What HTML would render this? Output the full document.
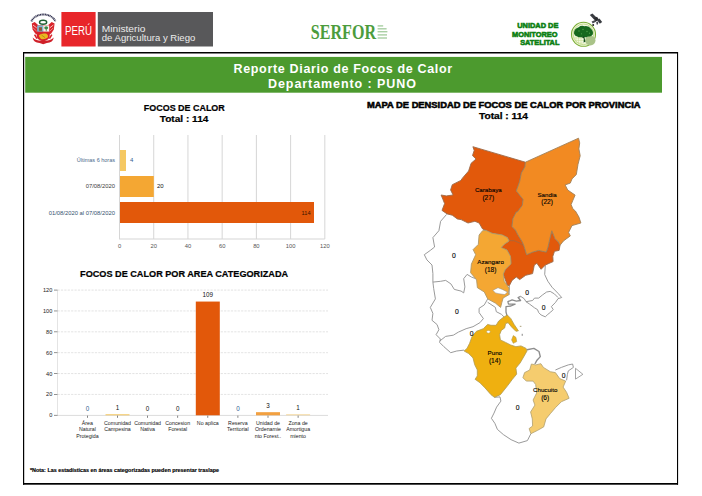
<!DOCTYPE html>
<html><head><meta charset="utf-8">
<style>
html,body{margin:0;padding:0;background:#fff;}
body{width:702px;height:496px;overflow:hidden;font-family:"Liberation Sans",sans-serif;}
svg{display:block;}
text{font-family:"Liberation Sans",sans-serif;}
.serif{font-family:"Liberation Serif",serif;}
</style></head><body>
<svg width="702" height="496" viewBox="0 0 702 496">
<rect width="702" height="496" fill="#fff"/>
<!-- FRAME -->
<g id="frame">
<rect x="23" y="52" width="655" height="1.5" fill="#000"/>
<rect x="23" y="483" width="655" height="1.7" fill="#000"/>
<rect x="23" y="52" width="1.2" height="432.7" fill="#000"/>
<rect x="677" y="52" width="1.1" height="432.7" fill="#000"/>
<rect x="25.2" y="56.9" width="636.8" height="35.8" fill="#4c9a2e"/>
</g>
<!-- HEADER -->
<g id="header">
<rect x="61.4" y="12" width="34.2" height="34.5" fill="#e8262a"/>
<rect x="97.8" y="12" width="115.2" height="34.5" fill="#58585a"/>
<text x="65" y="34.5" font-size="12.5" fill="#fff" textLength="27" lengthAdjust="spacingAndGlyphs">PERÚ</text>
<text x="101.8" y="31.8" font-size="9" fill="#ececec" textLength="43.5" lengthAdjust="spacingAndGlyphs">Ministerio</text>
<text x="101.8" y="40.7" font-size="9" fill="#ececec" textLength="93.5" lengthAdjust="spacingAndGlyphs">de Agricultura y Riego</text>
<!-- coat of arms -->
<g id="escudo">
<path d="M31.4,21.4 A12.6,10 0 0 1 55.4,21.4" fill="none" stroke="#30304e" stroke-width="1.9" stroke-dasharray="1.1,0.5"/>
<ellipse cx="43.1" cy="22.2" rx="3.6" ry="2" fill="none" stroke="#1d5e2e" stroke-width="1.4"/>
<path d="M31.8,23.4 L34.7,22 L38.4,25.2 L38.4,35 L35.2,33.4 L32.6,29.4 Z" fill="#d8232a"/>
<path d="M33,25 L37.6,28.6" stroke="#fbe9e6" stroke-width="0.8"/>
<path d="M33.2,28 L37.4,31.8" stroke="#f4c9c6" stroke-width="0.6"/>
<path d="M54.6,23.4 L51.7,22 L48,25.2 L48,35 L51.2,33.4 L53.8,29.4 Z" fill="#d8232a"/>
<path d="M53.4,25 L48.8,28.6" stroke="#fbe9e6" stroke-width="0.8"/>
<path d="M53.2,28 L49,31.8" stroke="#f4c9c6" stroke-width="0.6"/>
<path d="M36.7,25.2 H49.7 V35.5 Q49.7,40.2 43.2,41.4 Q36.7,40.2 36.7,35.5 Z" fill="#d8232a"/>
<rect x="37.2" y="25.4" width="6" height="6.2" fill="#7db9d6"/>
<rect x="43.2" y="25.4" width="6" height="6.2" fill="#f4f4ee"/>
<rect x="38.8" y="27.2" width="3.2" height="3.6" fill="#8a5a3a"/>
<ellipse cx="46.2" cy="27.8" rx="1.9" ry="1.6" fill="#3a8a4a"/>
<rect x="45.8" y="28.8" width="0.8" height="2.4" fill="#5a7a3a"/>
<path d="M38.8,35.2 Q41.5,33 45.5,33.6 Q48.8,34.6 47.8,37.4 Q45,39.8 41,39 Q39.4,37.8 38.8,35.2 Z" fill="#e8b820"/>
<path d="M41.5,35 L45,37.6" stroke="#a86a10" stroke-width="0.6"/>
<path d="M32.6,37.4 Q36.5,41.2 43.2,40.6 Q49.8,41.2 53.8,37.4 Q53,42.4 46.8,43 L43.2,44.2 L39.6,43 Q33.4,42.4 32.6,37.4 Z" fill="#cf2029"/>
<path d="M34.6,34.6 L37,38.6 M51.8,34.6 L49.4,38.6" stroke="#d8232a" stroke-width="1.6"/>
</g>
<!-- SERFOR -->
<text class="serif" x="310.8" y="38.7" font-size="20.8" font-weight="bold" fill="#4c9c3c" textLength="65.2" lengthAdjust="spacingAndGlyphs" style="font-family:'Liberation Serif',serif">SERFOR</text>
<g fill="#a9cfa3">
<rect x="377.6" y="25.2" width="5.6" height="1.4"/>
<rect x="377.6" y="28.1" width="9" height="1.4"/>
<rect x="377.6" y="31" width="9.8" height="1.4"/>
<rect x="377.6" y="34.2" width="9.4" height="1.4"/>
<rect x="377.6" y="37.3" width="9.4" height="1.4"/>
</g>
<!-- UMS -->
<g font-weight="bold" font-size="7.7" fill="#0b8011" stroke="#0b8011" stroke-width="0.6">
<text x="517.2" y="27.8" textLength="41.2" lengthAdjust="spacingAndGlyphs">UNIDAD DE</text>
<text x="512" y="36.8" textLength="45.6" lengthAdjust="spacingAndGlyphs">MONITOREO</text>
<text x="520.2" y="44.9" textLength="39.2" lengthAdjust="spacingAndGlyphs">SATELITAL</text>
</g>
<g id="globe">
<circle cx="583.5" cy="34.3" r="12" fill="#f3f8e2" stroke="#7cae36" stroke-width="1.1"/>
<circle cx="583.5" cy="34.3" r="10.3" fill="none" stroke="#b7d67a" stroke-width="0.8"/>
<g stroke="#c5dc8c" stroke-width="0.5" fill="none">
<path d="M573.5,38 H584 M574.5,40.5 H584 M576,43 H584 M576,36.5 V43 M578.5,36.5 V44.5 M581,36.5 V45.5"/>
</g>
<ellipse cx="590.3" cy="40.6" rx="5.2" ry="4.8" fill="#a9c388"/>
<path d="M574,33.6 Q573.8,28.6 578.6,27.2 Q581,25.2 584.6,26.2 Q589,25.6 591,28.8 Q593.6,31 592.8,34.6 Q591.2,37 588,36.4 Q585.5,38 583,36.8 Q579.5,38 577.2,36.4 Q574.4,36 574,33.6 Z" fill="#16691e"/>
<path d="M584.2,36 L585.4,41.8 L583.6,42.6 L583.8,38.6 L581.5,37 Z" fill="#134d18"/>
<g fill="#4fa04a"><circle cx="579" cy="31" r="0.7"/><circle cx="583" cy="29.5" r="0.7"/><circle cx="587" cy="31.5" r="0.7"/><circle cx="581.5" cy="33.8" r="0.6"/><circle cx="589.5" cy="33.2" r="0.6"/></g>
</g>
<g id="sat" fill="#3a3d42">
<path d="M589.8,15 L592.4,13.4 L596.6,17.4 L594,19.4 Z"/>
<path d="M593.6,18.2 L597,16.8 L599,19.8 L595.4,21.8 Z" fill="#2a2c30"/>
<path d="M597,20 L599.4,18.4 L602.2,22 L599.8,23.8 Z"/>
<path d="M591.6,21.6 L595.2,20 L596,21.8 L592.6,23.6 Z" fill="#4a4d52"/>
<path d="M596.2,22 L598.2,21.4 L598,24.6 L596.6,24.6 Z" fill="#4a4d52"/>
<circle cx="593.2" cy="25" r="1" fill="#222"/>
</g>
</g>
<!-- TITLE BAR TEXT -->
<g id="titlebar" font-weight="bold" fill="#fff" font-size="12.5">
<text x="233.5" y="72.6" textLength="218.7" lengthAdjust="spacing">Reporte Diario de Focos de Calor</text>
<text x="268" y="87.6" textLength="148" lengthAdjust="spacing">Departamento : PUNO</text>
</g>
<!-- CHART1 -->
<g id="chart1">
<rect x="119.00" y="135" width="1" height="104" fill="#d6d6d6"/>
<rect x="153.22" y="135" width="1" height="104" fill="#d6d6d6"/>
<rect x="187.44" y="135" width="1" height="104" fill="#d6d6d6"/>
<rect x="221.66" y="135" width="1" height="104" fill="#d6d6d6"/>
<rect x="255.88" y="135" width="1" height="104" fill="#d6d6d6"/>
<rect x="290.10" y="135" width="1" height="104" fill="#d6d6d6"/>
<rect x="324.32" y="135" width="1" height="104" fill="#d6d6d6"/>
<rect x="119" y="238.5" width="205.82" height="1" fill="#d6d6d6"/>
<text x="119.50" y="248.2" font-size="5.8" fill="#555" text-anchor="middle">0</text>
<text x="153.72" y="248.2" font-size="5.8" fill="#555" text-anchor="middle">20</text>
<text x="187.94" y="248.2" font-size="5.8" fill="#555" text-anchor="middle">40</text>
<text x="222.16" y="248.2" font-size="5.8" fill="#555" text-anchor="middle">60</text>
<text x="256.38" y="248.2" font-size="5.8" fill="#555" text-anchor="middle">80</text>
<text x="290.60" y="248.2" font-size="5.8" fill="#555" text-anchor="middle">100</text>
<text x="324.82" y="248.2" font-size="5.8" fill="#555" text-anchor="middle">120</text>
<rect x="120" y="150" width="6" height="21" fill="#f5c862"/>
<rect x="120" y="176" width="33.8" height="21" fill="#f4a733"/>
<rect x="120" y="202" width="194" height="21" fill="#e2580a"/>
<text x="115" y="162" font-size="5.5" fill="#4a6a8a" text-anchor="end">Últimas 6 horas</text>
<text x="115" y="188.3" font-size="5.85" fill="#3a3a3a" text-anchor="end">07/08/2020</text>
<text x="115" y="214.6" font-size="5.85" fill="#33506e" text-anchor="end">01/08/2020 al 07/08/2020</text>
<text x="130" y="162.4" font-size="6" fill="#2f5f8f">4</text>
<text x="157" y="188.4" font-size="6" fill="#111">20</text>
<text x="310.5" y="214.6" font-size="5.6" fill="#3a1500" text-anchor="end">114</text>
<text x="143.8" y="110.8" font-size="8.8" font-weight="bold" fill="#000" stroke="#000" stroke-width="0.2" textLength="81" lengthAdjust="spacingAndGlyphs">FOCOS DE CALOR</text>
<text x="159.8" y="121.5" font-size="8.8" font-weight="bold" fill="#000" stroke="#000" stroke-width="0.2" textLength="48.6" lengthAdjust="spacingAndGlyphs">Total : 114</text>
</g>
<!-- CHART2 -->
<g id="chart2">
<line x1="57.5" y1="394.43" x2="328" y2="394.43" stroke="#dcdcdc" stroke-width="0.8" stroke-dasharray="2.2,1.2"/>
<line x1="57.5" y1="373.56" x2="328" y2="373.56" stroke="#dcdcdc" stroke-width="0.8" stroke-dasharray="2.2,1.2"/>
<line x1="57.5" y1="352.69" x2="328" y2="352.69" stroke="#dcdcdc" stroke-width="0.8" stroke-dasharray="2.2,1.2"/>
<line x1="57.5" y1="331.82" x2="328" y2="331.82" stroke="#dcdcdc" stroke-width="0.8" stroke-dasharray="2.2,1.2"/>
<line x1="57.5" y1="310.95" x2="328" y2="310.95" stroke="#dcdcdc" stroke-width="0.8" stroke-dasharray="2.2,1.2"/>
<line x1="57.5" y1="290.08" x2="328" y2="290.08" stroke="#dcdcdc" stroke-width="0.8" stroke-dasharray="2.2,1.2"/>
<rect x="57" y="290" width="1" height="126" fill="#e4e4e4"/>
<rect x="57" y="414.9" width="271" height="1" fill="#dcdcdc"/>
<rect x="54" y="414.90" width="3.5" height="0.8" fill="#777"/>
<text x="52.3" y="417.30" font-size="5.6" fill="#222" text-anchor="end">0</text>
<rect x="54" y="394.03" width="3.5" height="0.8" fill="#777"/>
<text x="52.3" y="396.43" font-size="5.6" fill="#222" text-anchor="end">20</text>
<rect x="54" y="373.16" width="3.5" height="0.8" fill="#777"/>
<text x="52.3" y="375.56" font-size="5.6" fill="#222" text-anchor="end">40</text>
<rect x="54" y="352.29" width="3.5" height="0.8" fill="#777"/>
<text x="52.3" y="354.69" font-size="5.6" fill="#222" text-anchor="end">60</text>
<rect x="54" y="331.42" width="3.5" height="0.8" fill="#777"/>
<text x="52.3" y="333.82" font-size="5.6" fill="#222" text-anchor="end">80</text>
<rect x="54" y="310.55" width="3.5" height="0.8" fill="#777"/>
<text x="52.3" y="312.95" font-size="5.6" fill="#222" text-anchor="end">100</text>
<rect x="54" y="289.68" width="3.5" height="0.8" fill="#777"/>
<text x="52.3" y="292.08" font-size="5.6" fill="#222" text-anchor="end">120</text>
<rect x="87.0" y="415.6" width="0.8" height="2.2" fill="#666"/>
<text x="87.4" y="410.70" font-size="6.3" fill="#2f5f8f" text-anchor="middle">0</text>
<text x="87.4" y="424.6" font-size="5.25" fill="#222" text-anchor="middle">Área</text>
<text x="87.4" y="431.1" font-size="5.25" fill="#222" text-anchor="middle">Natural</text>
<text x="87.4" y="437.6" font-size="5.25" fill="#222" text-anchor="middle">Protegida</text>
<rect x="105.5" y="414.26" width="24" height="1.04" fill="#f5c862"/>
<rect x="117.1" y="415.6" width="0.8" height="2.2" fill="#666"/>
<text x="117.5" y="409.66" font-size="6.3" fill="#111" text-anchor="middle">1</text>
<text x="117.5" y="424.6" font-size="5.25" fill="#222" text-anchor="middle">Comunidad</text>
<text x="117.5" y="431.1" font-size="5.25" fill="#222" text-anchor="middle">Campesina</text>
<rect x="147.2" y="415.6" width="0.8" height="2.2" fill="#666"/>
<text x="147.6" y="410.70" font-size="6.3" fill="#111" text-anchor="middle">0</text>
<text x="147.6" y="424.6" font-size="5.25" fill="#222" text-anchor="middle">Comunidad</text>
<text x="147.6" y="431.1" font-size="5.25" fill="#222" text-anchor="middle">Nativa</text>
<rect x="177.3" y="415.6" width="0.8" height="2.2" fill="#666"/>
<text x="177.7" y="410.70" font-size="6.3" fill="#111" text-anchor="middle">0</text>
<text x="177.7" y="424.6" font-size="5.25" fill="#222" text-anchor="middle">Concesion</text>
<text x="177.7" y="431.1" font-size="5.25" fill="#222" text-anchor="middle">Forestal</text>
<rect x="195.8" y="301.56" width="24" height="113.74" fill="#e2580a"/>
<rect x="207.4" y="415.6" width="0.8" height="2.2" fill="#666"/>
<text x="207.8" y="296.96" font-size="6.3" fill="#111" text-anchor="middle">109</text>
<text x="207.8" y="424.6" font-size="5.25" fill="#222" text-anchor="middle">No aplica</text>
<rect x="237.5" y="415.6" width="0.8" height="2.2" fill="#666"/>
<text x="237.9" y="410.70" font-size="6.3" fill="#2f5f8f" text-anchor="middle">0</text>
<text x="237.9" y="424.6" font-size="5.25" fill="#222" text-anchor="middle">Reserva</text>
<text x="237.9" y="431.1" font-size="5.25" fill="#222" text-anchor="middle">Territorial</text>
<rect x="256.0" y="412.17" width="24" height="3.13" fill="#f2a040"/>
<rect x="267.6" y="415.6" width="0.8" height="2.2" fill="#666"/>
<text x="268.0" y="407.57" font-size="6.3" fill="#111" text-anchor="middle">3</text>
<text x="268.0" y="424.6" font-size="5.25" fill="#222" text-anchor="middle">Unidad de</text>
<text x="268.0" y="431.1" font-size="5.25" fill="#222" text-anchor="middle">Ordenamie</text>
<text x="268.0" y="437.6" font-size="5.25" fill="#222" text-anchor="middle">nto Forest..</text>
<rect x="286.1" y="414.26" width="24" height="1.04" fill="#f6d9a0"/>
<rect x="297.7" y="415.6" width="0.8" height="2.2" fill="#666"/>
<text x="298.1" y="409.66" font-size="6.3" fill="#111" text-anchor="middle">1</text>
<text x="298.1" y="424.6" font-size="5.25" fill="#222" text-anchor="middle">Zona de</text>
<text x="298.1" y="431.1" font-size="5.25" fill="#222" text-anchor="middle">Amortigua</text>
<text x="298.1" y="437.6" font-size="5.25" fill="#222" text-anchor="middle">miento</text>
<text x="80.1" y="277.1" font-size="9.4" font-weight="bold" fill="#000" stroke="#000" stroke-width="0.2" textLength="208" lengthAdjust="spacingAndGlyphs">FOCOS DE CALOR POR AREA CATEGORIZADA</text>
<text x="30" y="472.3" font-size="5.4" font-weight="bold" fill="#000" stroke="#000" stroke-width="0.15" textLength="189" lengthAdjust="spacingAndGlyphs">*Nota: Las estadísticas en áreas categorizadas pueden presentar traslape</text>
</g>
<!-- MAP -->
<g id="map">
<polyline points="446.6,214.4 440.6,221.3 438.9,230.7 432.9,237.6 434.6,247.0 430.3,250.4 424.3,254.7 426.9,259.9 432.0,265.0 432.9,273.6 432.9,282.1 440.6,281.3 445.7,280.4 450.9,283.9 454.3,289.4 461.1,291.1 463.7,292.9 464.9,286.9 463.7,278.7 467.1,274.4 471.4,277.0 475.7,278.7" fill="none" stroke="#8e8e8e" stroke-width="0.9" stroke-linejoin="round"/>
<polyline points="432.9,282.1 433.7,288.6 435.4,298.9 430.3,307.4 432.9,313.4 432.0,320.3 437.1,324.6 438.9,329.7 436.1,334.7 440.4,339.0 439.6,342.4 443.9,346.7 450.7,352.7 456.7,351.0 464.1,350.1" fill="none" stroke="#8e8e8e" stroke-width="0.9" stroke-linejoin="round"/>
<polyline points="439.8,341.0 445.6,336.4 453.3,335.2 458.4,332.1 466.1,328.7 473.0,326.7 479.9,322.7 483.4,318.6 479.1,312.6 479.1,308.3 484.3,304.9 487.7,298.9" fill="none" stroke="#8e8e8e" stroke-width="0.9" stroke-linejoin="round"/>
<polyline points="487.7,302.3 495.4,307.4 496.3,311.7 501.4,314.3 504.0,316.9" fill="none" stroke="#8e8e8e" stroke-width="0.9" stroke-linejoin="round"/>
<polyline points="507.3,316.8 506.0,312.0 506.0,306.6 510.9,306.0 515.1,304.1 508.5,304.1 507.9,301.7 512.1,299.9 516.3,301.1 520.6,300.5 518.1,297.5 520.6,296.3" fill="none" stroke="#8c8c8c" stroke-width="1.3" stroke-linejoin="round"/>
<polyline points="520.6,296.3 524.2,298.7 526.0,301.7 529.6,304.1 534.5,307.8 537.5,309.6 538.7,312.6 541.1,315.0 545.3,316.8 547.8,314.4 550.8,312.0 553.2,309.6 551.4,306.6 555.6,302.3 558.0,298.7 561.7,297.5 558.0,293.3 552.0,287.2 547.8,281.2 544.7,274.5 545.3,265.4" fill="none" stroke="#8e8e8e" stroke-width="0.9" stroke-linejoin="round"/>
<polyline points="526.0,301.7 532.6,300.5 534.5,298.1 538.7,298.1 542.3,295.1 546.6,292.0 550.2,291.4 554.4,293.9 558.0,297.5" fill="none" stroke="#8e8e8e" stroke-width="0.9" stroke-linejoin="round"/>
<polyline points="509.1,294.6 509.4,285.6" fill="none" stroke="#8e8e8e" stroke-width="0.9" stroke-linejoin="round"/>
<polyline points="494.4,397.3 500.0,396.9 500.9,401.1 496.6,407.1 494.0,413.1 491.4,418.3 494.9,423.4 497.4,429.4 503.4,434.6 511.1,439.7 518.9,443.1 527.4,440.6 530.9,433.7" fill="none" stroke="#8e8e8e" stroke-width="0.9" stroke-linejoin="round"/>
<polyline points="527.0,349.8 533.9,348.4 539.0,351.5 540.3,356.6 537.0,360.2 534.9,364.0" fill="none" stroke="#8e8e8e" stroke-width="1.4" stroke-linejoin="round"/>
<polyline points="555.4,370.0 561.4,367.4 568.3,364.9 572.6,364.0 573.4,367.4 568.3,370.9 567.4,374.3 566.6,380.3" fill="none" stroke="#8e8e8e" stroke-width="0.9" stroke-linejoin="round"/>
<polygon points="575.5,368.3 582.9,374.3 575.5,379.1" fill="#fff" stroke="#8e8e8e" stroke-width="0.8"/>
<polygon points="472.9,146.7 474.2,150.4 472.5,155.6 476.0,159.0 471.1,163.3 468.6,171.0 462.6,177.9 460.9,180.4 452.3,184.7 450.6,189.9 453.1,195.0 446.3,195.9 441.1,195.0 442.9,199.3 444.6,203.6 442.0,210.4 447.1,213.9 452.3,215.2 457.4,219.0 461.1,219.6 468.0,223.0 474.9,221.3 479.1,223.0 482.6,229.0 486.0,230.4 492.0,233.3 502.3,235.0 507.4,237.6 509.1,241.0 504.0,244.4 501.2,247.5 507.0,250.0 510.5,256.4 511.0,263.8 505.4,269.3 503.3,274.0 507.4,285.6 509.4,285.6 512.0,280.4 516.3,277.0 519.7,279.6 525.7,275.3 532.6,273.6 534.3,265.0 536.9,263.3 541.1,269.3 545.4,265.0 553.1,261.6 552.8,256.4 554.5,251.3 559.1,250.4 560.0,245.3 558.3,241.9 554.9,238.4 551.8,230.7 549.7,239.3 548.0,247.0 546.3,252.1 538.6,250.4 532.6,252.1 526.6,254.7 524.0,246.1 522.3,241.9 518.0,235.0 515.4,229.9 512.0,226.4 512.9,218.7 516.3,211.9 517.1,212.3 522.3,205.4 523.1,199.4 519.7,195.1 516.3,190.9 519.7,181.4 521.4,172.9 524.9,166.9 525.4,162.2" fill="#e2590b" stroke="#9c6a48" stroke-width="0.9" stroke-linejoin="round"/>
<polygon points="525.4,162.2 578.5,138.2 579.7,142.9 578.9,148.9 580.2,155.7 578.0,164.3 576.3,174.6 572.0,178.9 570.3,183.1 565.1,184.9 567.7,190.0 575.1,195.1 572.9,200.3 571.1,204.6 572.9,208.9 575.4,211.0 578.9,217.0 580.9,223.0 572.0,225.6 568.6,232.4 570.3,235.9 563.4,241.0 560.0,245.3 558.3,241.9 554.9,238.4 551.8,230.7 549.7,239.3 548.0,247.0 546.3,252.1 538.6,250.4 532.6,252.1 526.6,254.7 524.0,246.1 522.3,241.9 518.0,235.0 515.4,229.9 512.0,226.4 512.9,218.7 516.3,211.9 517.1,212.3 522.3,205.4 523.1,199.4 519.7,195.1 516.3,190.9 519.7,181.4 521.4,172.9 524.9,166.9 525.4,162.2" fill="#f28a22" stroke="#a08058" stroke-width="0.9" stroke-linejoin="round"/>
<polyline points="508.5,240.6 514.5,240.8 519.5,243.0 523.2,245.4" fill="none" stroke="#a8683c" stroke-width="0.9" stroke-linejoin="round"/>
<polygon points="486.0,230.4 482.6,230.7 479.1,235.0 478.3,244.4 473.1,249.6 475.7,254.7 471.4,264.1 470.6,272.7 475.7,278.7 476.6,280.0 477.4,287.7 484.3,292.0 487.7,298.9 495.4,303.1 500.6,307.4 501.9,302.3 503.1,298.0 509.1,294.6 508.3,292.9 509.1,288.6 507.5,285.8 504.2,281.3 503.3,274.0 505.4,269.3 511.0,263.8 510.5,256.4 507.0,250.0 501.2,247.5 504.0,244.4 509.1,241.0 507.4,237.6 502.3,235.0 492.0,233.3 486.0,230.4" fill="#f4a733" stroke="#b09868" stroke-width="0.9" stroke-linejoin="round"/>
<polygon points="492.9,290.3 498.0,287.7 502.3,289.4 507.4,292.0 504.9,294.6 498.9,293.7 495.4,292.9" fill="#fff" stroke="#8e8e8e" stroke-width="0.5"/>
<polygon points="507.3,315.0 503.0,317.6 498.7,321.0 496.1,325.3 491.0,325.3 487.6,324.4 483.3,328.7 476.4,331.3 472.1,336.4 469.6,343.3 467.0,348.4 464.1,351.0 468.7,353.6 473.0,357.9 474.7,364.7 477.3,369.9 477.3,375.9 475.1,379.3 479.9,382.7 485.0,387.9 491.0,394.7 494.4,397.3 500.4,394.7 507.3,386.1 512.4,379.3 516.7,374.1 515.9,368.1 520.1,363.0 523.6,357.0 527.0,351.0 526.1,348.4 521.0,345.9 515.9,346.7 510.7,345.0 505.6,342.4 500.4,339.9 499.6,334.7 501.3,330.4 504.7,327.9 505.6,323.6 508.1,322.7 511.6,327.0 515.9,331.3 518.4,330.8 514.1,324.4 510.7,318.4" fill="#efb010" stroke="#b09a50" stroke-width="0.8" stroke-linejoin="round"/>
<polygon points="513.3,335.6 515.9,337.3 516.7,341.6 513.3,343.3 511.6,339.9" fill="#efb010" stroke="#b09a50" stroke-width="0.6" stroke-linejoin="round"/>
<ellipse cx="488.4" cy="331.8" rx="1.9" ry="1.4" fill="#fff" stroke="#b09a50" stroke-width="0.5"/>
<rect x="519.8" y="325.8" width="1.6" height="1.2" fill="#b8b090"/><rect x="521.6" y="333.8" width="1.4" height="2" fill="#a8a8a8"/>
<polygon points="531.4,364.0 535.7,364.9 540.9,363.7 543.4,367.4 550.3,371.7 555.4,372.6 559.7,378.6 565.7,381.1 563.1,387.1 566.6,392.3 569.1,398.3 561.4,401.7 555.4,407.7 550.3,413.7 546.0,418.9 543.7,426.9 537.7,430.3 530.9,433.7 529.1,428.6 532.6,426.0 532.3,418.9 530.6,412.0 534.9,405.1 533.1,400.0 536.6,393.1 535.7,384.6 533.1,381.1 526.3,381.1 522.9,377.7 524.6,372.6 529.7,370.0" fill="#f5cc6e" stroke="#b0a070" stroke-width="0.8" stroke-linejoin="round"/>
<text x="488.3" y="192.3" font-size="6.2" fill="#000" stroke="#000" stroke-width="0.12" text-anchor="middle">Carabaya</text>
<text x="488.3" y="200.4" font-size="6.6" fill="#000" stroke="#000" stroke-width="0.12" text-anchor="middle">(27)</text>
<text x="547.1" y="196.9" font-size="6.2" fill="#000" stroke="#000" stroke-width="0.12" text-anchor="middle">Sandia</text>
<text x="547.1" y="204.4" font-size="6.6" fill="#000" stroke="#000" stroke-width="0.12" text-anchor="middle">(22)</text>
<text x="490.6" y="263.7" font-size="6.2" fill="#000" stroke="#000" stroke-width="0.12" text-anchor="middle">Azangaro</text>
<text x="490.6" y="272.2" font-size="6.6" fill="#000" stroke="#000" stroke-width="0.12" text-anchor="middle">(18)</text>
<text x="494.8" y="354.8" font-size="6.2" fill="#000" stroke="#000" stroke-width="0.12" text-anchor="middle">Puno</text>
<text x="494.8" y="363.2" font-size="6.6" fill="#000" stroke="#000" stroke-width="0.12" text-anchor="middle">(14)</text>
<text x="545.2" y="392.4" font-size="6.2" fill="#000" stroke="#000" stroke-width="0.12" text-anchor="middle">Chucuito</text>
<text x="545.2" y="400.3" font-size="6.6" fill="#000" stroke="#000" stroke-width="0.12" text-anchor="middle">(6)</text>
<text x="453.9" y="258.0" font-size="6.8" fill="#000" stroke="#000" stroke-width="0.12" text-anchor="middle">0</text>
<text x="456.9" y="313.59999999999997" font-size="6.8" fill="#000" stroke="#000" stroke-width="0.12" text-anchor="middle">0</text>
<text x="471.6" y="335.9" font-size="6.8" fill="#000" stroke="#000" stroke-width="0.12" text-anchor="middle">0</text>
<text x="527.1" y="295.29999999999995" font-size="6.8" fill="#000" stroke="#000" stroke-width="0.12" text-anchor="middle">0</text>
<text x="543.7" y="309.79999999999995" font-size="6.8" fill="#000" stroke="#000" stroke-width="0.12" text-anchor="middle">0</text>
<text x="517.6" y="409.59999999999997" font-size="6.8" fill="#000" stroke="#000" stroke-width="0.12" text-anchor="middle">0</text>
<text x="563.7" y="377.9" font-size="6.8" fill="#000" stroke="#000" stroke-width="0.12" text-anchor="middle">0</text>
<text x="367" y="107.5" font-size="8.3" font-weight="bold" fill="#000" stroke="#000" stroke-width="0.5" textLength="273.5" lengthAdjust="spacingAndGlyphs">MAPA DE DENSIDAD DE FOCOS DE CALOR POR PROVINCIA</text>
<text x="479" y="118.6" font-size="8.2" font-weight="bold" fill="#000" stroke="#000" stroke-width="0.25" textLength="49" lengthAdjust="spacingAndGlyphs">Total : 114</text>
</g>
</svg>
</body></html>
